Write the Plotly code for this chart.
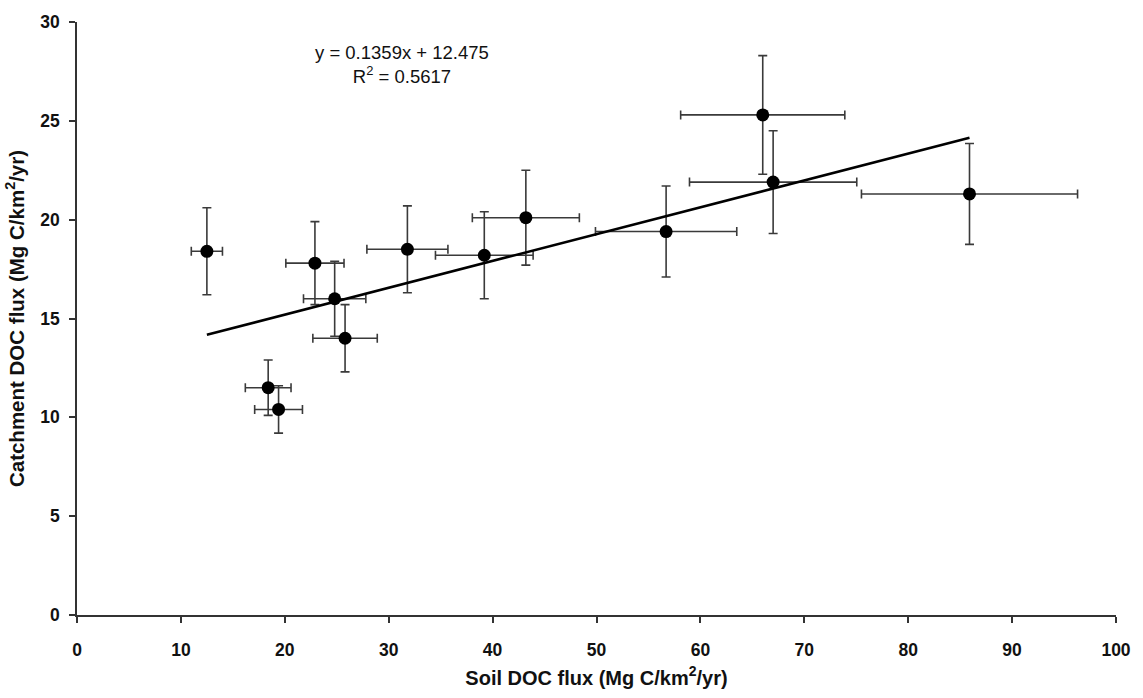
import plotly.graph_objects as go

# Data
soil_doc = [12.5, 18.4, 19.4, 22.9, 24.8, 25.8, 31.8, 39.2, 43.2, 56.7, 66.0, 67.0, 85.9]
soil_err = [1.5, 2.2, 2.3, 2.8, 3.0, 3.1, 3.9, 4.7, 5.15, 6.8, 7.9, 8.05, 10.4]
catch_doc = [18.4, 11.5, 10.4, 17.8, 16.0, 14.0, 18.5, 18.2, 20.1, 19.4, 25.3, 21.9, 21.3]
catch_err = [2.2, 1.4, 1.2, 2.1, 1.9, 1.7, 2.2, 2.2, 2.4, 2.3, 3.0, 2.6, 2.55]

slope = 0.1359
intercept = 12.475
r2 = 0.5617
fit_x = [min(soil_doc), max(soil_doc)]
fit_y = [slope * v + intercept for v in fit_x]

x_ticks = list(range(0, 101, 10))
y_ticks = list(range(0, 31, 5))

axis_color = "#333333"
font_family = "Liberation Sans, Arial, Helvetica, sans-serif"

fig = go.Figure()

fig.add_trace(go.Scatter(
    x=soil_doc, y=catch_doc, mode="markers",
    marker=dict(color="black", size=13),
    error_x=dict(type="data", array=soil_err, color="#3a3a3a", thickness=1.6, width=4.5),
    error_y=dict(type="data", array=catch_err, color="#3a3a3a", thickness=1.6, width=4.5),
    showlegend=False, hoverinfo="x+y",
))

fig.add_trace(go.Scatter(
    x=fit_x, y=fit_y, mode="lines",
    line=dict(color="black", width=2.6),
    showlegend=False, hoverinfo="skip",
))

fig.add_annotation(
    x=31.3, y=27.85, xref="x", yref="y",
    text=f"y = {slope}x + {intercept}<br>R<sup>2</sup> = {r2}",
    showarrow=False, align="center", xanchor="center", yanchor="middle",
    font=dict(family=font_family, size=18.5, color="#111111"),
)

fig.update_layout(
    width=1143, height=698,
    margin=dict(l=77, r=21, t=20, b=79),
    plot_bgcolor="white", paper_bgcolor="white",
    font=dict(family=font_family, color="#111111"),
    xaxis=dict(
        range=[0, 100], tickmode="array", tickvals=x_ticks,
        showgrid=False, zeroline=False,
        showline=True, linecolor=axis_color, linewidth=1.5,
        ticks="outside", ticklen=6, tickwidth=1.5, tickcolor=axis_color,
        tickfont=dict(family=font_family, size=17.5, color="#111111", weight="bold"),
        ticklabelstandoff=12,
        title=dict(text="Soil DOC flux (Mg C/km<sup>2</sup>/yr)",
                   font=dict(family=font_family, size=20, color="#111111", weight="bold"),
                   standoff=12),
    ),
    yaxis=dict(
        range=[0, 30], tickmode="array", tickvals=y_ticks,
        showgrid=False, zeroline=False,
        showline=True, linecolor=axis_color, linewidth=1.5,
        ticks="outside", ticklen=6, tickwidth=1.5, tickcolor=axis_color,
        tickfont=dict(family=font_family, size=17.5, color="#111111", weight="bold"),
        ticklabelstandoff=6,
        title=dict(text="Catchment DOC flux (Mg C/km<sup>2</sup>/yr)",
                   font=dict(family=font_family, size=20.5, color="#111111", weight="bold"),
                   standoff=10),
    ),
)

fig.write_html("out.html")
